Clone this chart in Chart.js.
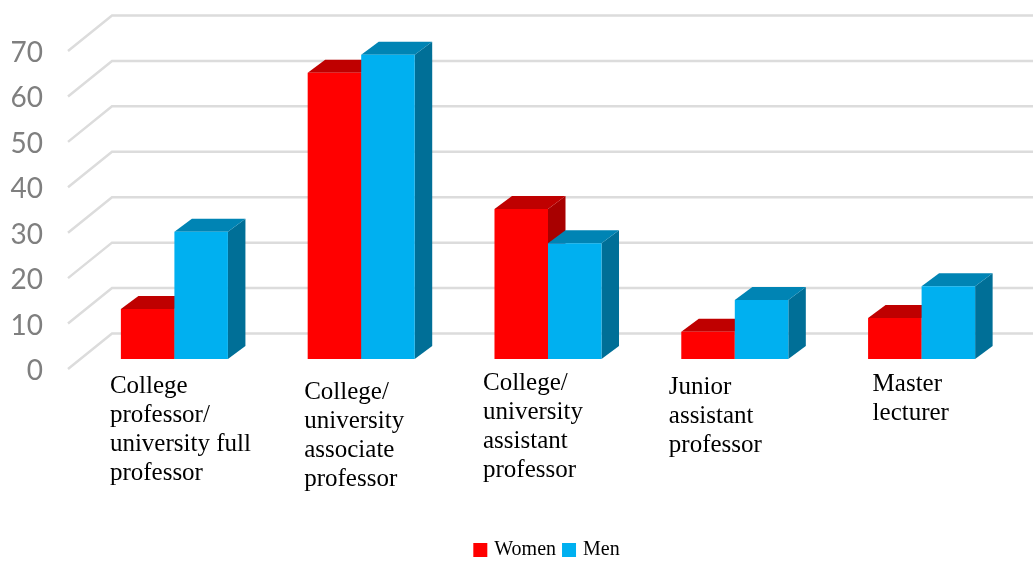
<!DOCTYPE html>
<html>
<head>
<meta charset="utf-8">
<style>
  body { margin: 0; background: #fff; }
</style>
<script src="https://cdn.jsdelivr.net/npm/chart.js@4"></script>
</head>
<body>
<canvas id="myChart" width="1033" height="561"></canvas>
<script>
const categories = [
  ["College", "professor/", "university full", "professor"],
  ["College/", "university", "associate", "professor"],
  ["College/", "university", "assistant", "professor"],
  ["Junior", "assistant", "professor"],
  ["Master", "lecturer"],
];
const women = [11, 63, 33, 6, 9];
const men = [28, 67, 25.5, 13, 16];

// where the hand-placed category labels sit, relative to the category centre
const labelNudgeX = [-64.5, -57, -65, -66, -49];
const labelTopY = [386, 392, 383, 387, 384];

const floorShift = 10; // bars stand in front of the zero gridline
const depthX = 17.5;
const depthY = 13;

const faces = [
  { top: "#bf0000", side: "#a80000" },
  { top: "#0084b4", side: "#006f97" },
];

function face(ctx, color, pts) {
  ctx.fillStyle = color;
  ctx.beginPath();
  pts.forEach((p, i) => (i ? ctx.lineTo(p[0], p[1]) : ctx.moveTo(p[0], p[1])));
  ctx.closePath();
  ctx.fill();
}

const wallGrid = {
  id: "wallGrid",
  beforeDatasetsDraw(chart) {
    const { ctx, scales } = chart;
    ctx.save();
    ctx.strokeStyle = "#dcdcdc";
    ctx.lineWidth = 2.5;
    scales.y.ticks.forEach((t) => {
      const y = scales.y.getPixelForValue(t.value);
      ctx.beginPath();
      ctx.moveTo(68, y);
      ctx.lineTo(112, y - 35.5);
      ctx.lineTo(1033, y - 35.5);
      ctx.stroke();
    });
    ctx.restore();
  },
};

const bars3d = {
  id: "bars3d",
  beforeDatasetsDraw(chart) {
    const ctx = chart.ctx;
    ctx.save();
    ctx.translate(0, -floorShift);
    chart.data.datasets.forEach((ds, i) => {
      chart.getDatasetMeta(i).data.forEach((bar) => {
        const { x, y, base, width } = bar.getProps(["x", "y", "base", "width"], true);
        const l = x - width / 2;
        const r = x + width / 2;
        face(ctx, faces[i].side, [[r, y], [r + depthX, y - depthY], [r + depthX, base - depthY], [r, base]]);
        face(ctx, faces[i].top, [[l, y], [l + depthX, y - depthY], [r + depthX, y - depthY], [r, y]]);
        bar.draw(ctx);
      });
    });
    ctx.restore();
    return false; // left bar has to go under the right one, so skip the normal pass
  },
};

const categoryLabels = {
  id: "categoryLabels",
  afterDraw(chart) {
    const { ctx, scales } = chart;
    ctx.save();
    ctx.font = '25px "Liberation Serif"';
    ctx.fillStyle = "#000";
    ctx.textAlign = "left";
    ctx.textBaseline = "middle";
    categories.forEach((lines, i) => {
      const x = scales.x.getPixelForTick(i) + labelNudgeX[i];
      lines.forEach((line, j) => ctx.fillText(line, x, labelTopY[i] + j * 29));
    });
    ctx.restore();
  },
};

// y tick labels sit slightly lower than their gridlines in the original
const tickDrop = {
  id: "tickDrop",
  afterUpdate(chart) {
    chart.scales.y.getLabelItems().forEach((item) => { item.textOffset += 2; });
  },
};

new Chart(document.getElementById("myChart").getContext("2d"), {
  type: "bar",
  data: {
    labels: categories.map((c) => c.join(" ")),
    datasets: [
      { label: "Women", data: women, backgroundColor: "#ff0000" },
      { label: "Men", data: men, backgroundColor: "#00b0f0" },
    ],
  },
  options: {
    responsive: false,
    animation: false,
    layout: { padding: { top: 51, right: 18, bottom: -9, left: 0 } },
    categoryPercentage: 0.573,
    barPercentage: 1,
    scales: {
      x: {
        grid: { display: false },
        border: { display: false },
        ticks: { display: false },
        afterFit: (scale) => { scale.height = 162; },
      },
      y: {
        min: 0,
        max: 70,
        grid: { display: false, drawTicks: false },
        border: { display: false },
        ticks: {
          stepSize: 10,
          padding: 38,
          color: "#7f7f7f",
          font: { family: "Lato", size: 28 },
        },
        afterFit: (scale) => {
          scale.width = 81;
          scale.paddingTop = 0;
          scale.paddingBottom = 0;
        },
      },
    },
    plugins: {
      tooltip: { enabled: false },
      legend: {
        position: "bottom",
        fullSize: false,
        labels: {
          boxWidth: 8,
          boxHeight: 8,
          padding: 9,
          color: "#000",
          font: { family: '"Liberation Serif"', size: 20 },
          generateLabels: (chart) =>
            Chart.defaults.plugins.legend.labels.generateLabels(chart).map((item) => ({
              ...item,
              strokeStyle: item.fillStyle,
              lineWidth: 6,
            })),
        },
      },
    },
  },
  plugins: [wallGrid, bars3d, categoryLabels, tickDrop],
});
</script>
</body>
</html>
